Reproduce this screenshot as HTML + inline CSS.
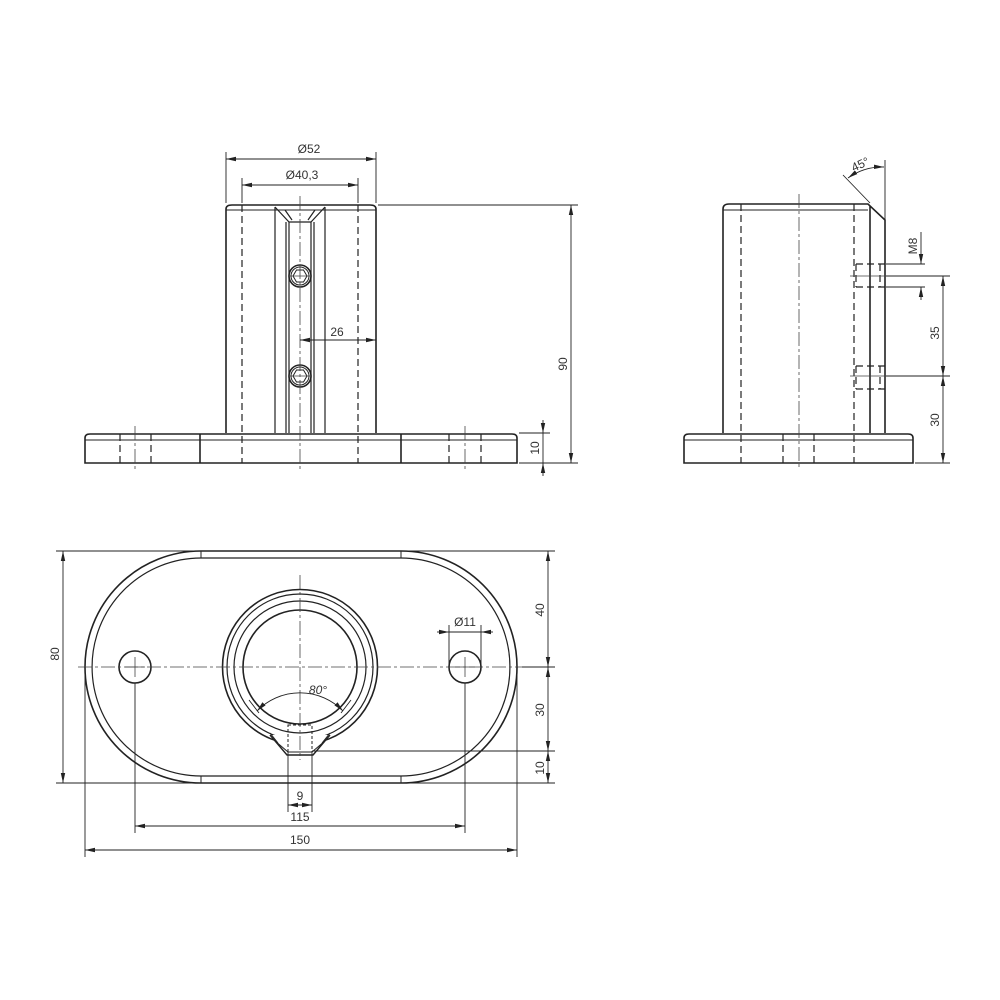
<!DOCTYPE html>
<html><head><meta charset="utf-8"><style>body{margin:0;background:#fff}svg{display:block}text{font-family:"Liberation Sans",sans-serif;font-size:12px;fill:#333}</style></head><body>
<svg width="1000" height="1000" viewBox="0 0 1000 1000" xmlns="http://www.w3.org/2000/svg">
<defs><marker id="a" markerWidth="10" markerHeight="6" refX="10" refY="3" orient="auto-start-reverse" markerUnits="userSpaceOnUse"><path d="M0,0.8 L10,3 L0,5.2z" fill="#222"/></marker></defs>
<g fill="none" stroke="#222" stroke-width="1.6">
<!-- FRONT VIEW -->
<path d="M226,433 V209 Q226,205 232,205 H370 Q376,205 376,209 V433"/>
<line x1="226" y1="210" x2="376" y2="210" stroke-width="1"/>
<path d="M275,207 L289,222 H311 L325,207 M285,210 L292,220 M315,210 L308,220" stroke-width="1.2"/>
<path d="M286,222 V433 M289,222 V433 M311,222 V433 M314,222 V433" stroke-width="1.2"/>
<path d="M275,207 V433 M325,207 V433" stroke-width="1.2"/>
<circle cx="300" cy="276" r="11"/><circle cx="300" cy="276" r="9" stroke-width="1"/><path d="M293,276 l3.5,-6 h7 l3.5,6 l-3.5,6 h-7z" stroke-width="1"/>
<circle cx="300" cy="376" r="11"/><circle cx="300" cy="376" r="9" stroke-width="1"/><path d="M293,376 l3.5,-6 h7 l3.5,6 l-3.5,6 h-7z" stroke-width="1"/>
<path d="M85,463 V438 Q85,434 90,434 H512 Q517,434 517,438 V463 Z"/>
<line x1="85" y1="440" x2="517" y2="440" stroke-width="1"/>
<path d="M200,434 V463 M401,434 V463"/>
<!-- SIDE VIEW -->
<path d="M723,433 V209 Q723,204 729,204 H868 L885,220 V433 M870,206 V433"/>
<line x1="723" y1="210" x2="868" y2="210" stroke-width="1"/>
<path d="M684,463 V438 Q684,434 689,434 H908 Q913,434 913,438 V463 Z"/>
<line x1="684" y1="440" x2="913" y2="440" stroke-width="1"/>
<!-- TOP VIEW -->
<path d="M201,551 H401 A116,116 0 0 1 401,783 H201 A116,116 0 0 1 201,551 Z"/>
<path d="M201,558 H401 A109,109 0 0 1 401,776 H201 A109,109 0 0 1 201,558 Z" stroke-width="1.2"/>
<path d="M201,551 V558 M401,551 V558 M201,776 V783 M401,776 V783" stroke-width="1"/>
<circle cx="135" cy="667" r="16"/><circle cx="465" cy="667" r="16"/>
<circle cx="300" cy="667" r="77.5"/><circle cx="300" cy="667" r="73" stroke-width="1.2"/><circle cx="300" cy="667" r="66" stroke-width="1.2"/><circle cx="300" cy="667" r="57"/>
<path d="M270,735 L287,755 H313 L330,735" stroke-width="1.4" fill="#fff"/>
<path d="M274,740 L288,752 H312 L326,740 M270,733 L278,743 M330,733 L322,743" stroke-width="1"/>
<rect x="288" y="725" width="24" height="27" stroke-width="1" stroke-dasharray="3,2"/>
</g>
<!-- hidden lines -->
<g stroke="#222" stroke-width="1.2" stroke-dasharray="7,4" fill="none">
<path d="M242,205 V463 M358,205 V463 M120,434 V463 M151,434 V463 M449,434 V463 M481,434 V463"/>
<path d="M741,204 V463 M854,204 V463 M783,434 V463 M814,434 V463"/>
<path d="M856,264 H885 M856,287 H885 M856,264 V287 M880,264 V287 M856,366 H885 M856,389 H885 M856,366 V389 M880,366 V389"/>
</g>
<!-- center lines -->
<g stroke="#444" stroke-width="0.8" stroke-dasharray="14,3,3,3" fill="none">
<path d="M300,196 V472 M135,426 V470 M465,426 V470 M799,194 V470"/>
<path d="M78,667 H522 M300,575 V760"/>
</g>
<g stroke="#444" stroke-width="0.8">
<path d="M290,276 H310 M290,376 H310 M850,276 H890 M850,376 H890 M125,667 H145 M135,657 V677 M455,667 H475 M465,657 V677"/>
</g>
<!-- dimensions -->
<g stroke="#222" stroke-width="0.9" fill="none">
<path d="M226,152 V203 M376,152 V203 M242,178 V203 M358,178 V203"/>
<line x1="226" y1="159" x2="376" y2="159" marker-start="url(#a)" marker-end="url(#a)"/>
<line x1="242" y1="185" x2="358" y2="185" marker-start="url(#a)" marker-end="url(#a)"/>
<line x1="300" y1="340" x2="376" y2="340" marker-start="url(#a)" marker-end="url(#a)"/>
<path d="M378,205 H578 M519,463 H578 M519,433 H550"/>
<line x1="571" y1="205" x2="571" y2="463" marker-start="url(#a)" marker-end="url(#a)"/>
<line x1="543" y1="420" x2="543" y2="433" marker-end="url(#a)"/><line x1="543" y1="476" x2="543" y2="463" marker-end="url(#a)"/>
<line x1="543" y1="433" x2="543" y2="463"/>
<!-- side dims -->
<path d="M885,160 V220 M843,175 L870,203"/>
<path d="M848,178 A60,60 0 0 1 884,167" marker-start="url(#a)" marker-end="url(#a)"/>
<path d="M886,264 H925 M886,287 H925 M886,276 H950 M886,376 H950 M915,463 H950"/>
<line x1="921" y1="232" x2="921" y2="264" marker-end="url(#a)"/><line x1="921" y1="300" x2="921" y2="287" marker-end="url(#a)"/>
<line x1="943" y1="276" x2="943" y2="376" marker-start="url(#a)" marker-end="url(#a)"/>
<line x1="943" y1="376" x2="943" y2="463" marker-start="url(#a)" marker-end="url(#a)"/>
<!-- top view dims -->
<path d="M56,551 H201 M56,783 H201 M401,551 H555 M401,783 H555 M522,667 H555 M312,751 H555"/>
<line x1="63" y1="551" x2="63" y2="783" marker-start="url(#a)" marker-end="url(#a)"/>
<line x1="548" y1="551" x2="548" y2="667" marker-start="url(#a)" marker-end="url(#a)"/>
<line x1="548" y1="667" x2="548" y2="751" marker-start="url(#a)" marker-end="url(#a)"/>
<line x1="548" y1="751" x2="548" y2="783" marker-start="url(#a)" marker-end="url(#a)"/>
<path d="M449,625 V667 M481,625 V667"/>
<line x1="437" y1="632" x2="449" y2="632" marker-end="url(#a)"/><line x1="493" y1="632" x2="481" y2="632" marker-end="url(#a)"/><line x1="449" y1="632" x2="481" y2="632"/>
<path d="M288,752 V812 M312,752 V812 M135,683 V833 M465,683 V833 M85,667 V857 M517,667 V857"/>
<line x1="288" y1="805" x2="312" y2="805" marker-start="url(#a)" marker-end="url(#a)"/>
<line x1="135" y1="826" x2="465" y2="826" marker-start="url(#a)" marker-end="url(#a)"/>
<line x1="85" y1="850" x2="517" y2="850" marker-start="url(#a)" marker-end="url(#a)"/>
<path d="M257,711 A60,60 0 0 1 343,711" marker-start="url(#a)" marker-end="url(#a)"/>
<path d="M249,700 L259,713 M351,700 L341,713"/>
</g>
<g text-anchor="middle">
<text x="309" y="153">Ø52</text>
<text x="302" y="179">Ø40,3</text>
<text x="337" y="336">26</text>
<text transform="translate(567,364) rotate(-90)">90</text>
<text transform="translate(539,448) rotate(-90)">10</text>
<text transform="translate(862,168) rotate(-25)">45°</text>
<text transform="translate(917,246) rotate(-90)">M8</text>
<text transform="translate(939,333) rotate(-90)">35</text>
<text transform="translate(939,420) rotate(-90)">30</text>
<text transform="translate(59,654) rotate(-90)">80</text>
<text transform="translate(544,610) rotate(-90)">40</text>
<text transform="translate(544,710) rotate(-90)">30</text>
<text transform="translate(544,768) rotate(-90)">10</text>
<text x="465" y="626">Ø11</text>
<text x="318" y="694" font-style="italic">80°</text>
<text x="300" y="800">9</text>
<text x="300" y="821">115</text>
<text x="300" y="844">150</text>
</g>
</svg>
</body></html>
